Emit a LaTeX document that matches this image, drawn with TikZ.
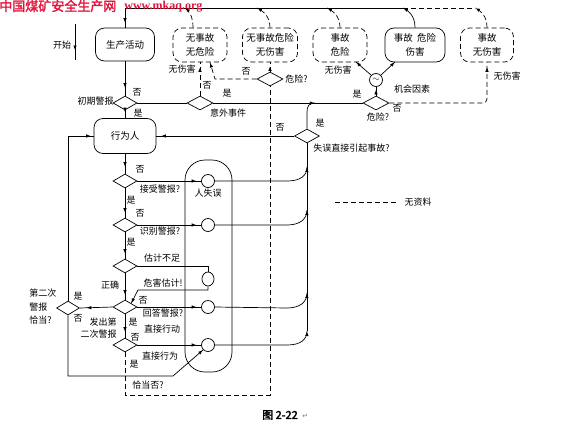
\documentclass[tikz,border=0pt]{standalone}
\usepackage{fontspec}
\newfontfamily\cjk{Noto Sans CJK SC}[AutoFakeBold=2]
\newfontfamily\titlelat{Liberation Serif}
\newfontfamily\symb{DejaVu Sans}
\usetikzlibrary{shapes.geometric,decorations.markings,calc,arrows.meta}
\definecolor{titlered}{RGB}{225,20,60}
\begin{document}
\begin{tikzpicture}[x=1pt,y=-1pt,line width=0.7pt,
  every node/.style={font=\cjk\fontsize{9}{11}\selectfont,inner sep=0pt},
  box/.style={draw,rounded corners=9pt,minimum width=#1,minimum height=34pt,align=center,font=\cjk\fontsize{9.5}{14}\selectfont},
  box/.default=55pt,
  dia/.style={draw,diamond,minimum width=#1,minimum height=14pt,inner sep=0pt},
  dia/.default=24pt,
  circ/.style={draw,circle,minimum size=13pt,inner sep=0pt},
  dsh/.style={dash pattern=on 5pt off 3pt},
  ar/.style={decoration={markings,mark=at position #1 with {\arrow{Latex[length=4.5pt,width=3.5pt]}}},postaction={decorate}},
  ar/.default=-5pt]
\useasboundingbox (0,0) rectangle (570,434);

% ---- top row boxes
\node[box=59pt,minimum height=33pt] (sc) at (125,44.5) {生产活动};
\node[box=62pt,minimum height=35pt] (xw) at (125,136) {行为人};
\node[box=54pt,dsh] (n1) at (200,45) {无事故\\无危险};
\node[box=55pt,dsh] (n2) at (270,45) {无事故危险\\无伤害};
\node[box=54pt,dsh] (n3) at (340,45) {事故\\危险};
\node[box=60pt] (n4) at (415,45) {事故\ \ 危险\\伤害};
\node[box=53pt,dsh] (n5) at (487,45) {事故\\无伤害};

% ---- diamonds
\node[dia] (d0) at (125,103) {};
\node[dia=26pt] (d1) at (200,103) {};
\node[dia=26pt] (d2) at (270,79) {};
\node[dia=26pt] (d3) at (376,103) {};
\node[dia=25pt] (d4) at (307,136) {};
\node[dia] (a1) at (125,181) {};
\node[dia] (a2) at (125,225) {};
\node[dia] (a3) at (125,266) {};
\node[dia] (a4) at (125,307) {};
\node[dia] (a5) at (125,345) {};
\node[dia=23pt] (d5) at (68,308) {};

% ---- human error region
\node[draw,rounded corners=20pt,minimum width=47pt,minimum height=212pt] (rs) at (208.5,266) {};
\node (rsl) at (208,193) {人失误};

% ---- circles
\node[circ,fill=white] (c1) at (208,181) {};
\node[circ,fill=white] (c2) at (208,225) {};
\node[circ,fill=white,minimum height=14pt,minimum width=12pt,ellipse] (c3) at (208,279) {};
\node[circ,fill=white] (c4) at (208,307) {};
\node[circ,fill=white] (c5) at (208,345) {};
\node[circ] (cm) at (376,80) {$\sim$};

% ---- coordinates
\coordinate (s1) at (75,24);
\coordinate (s2) at (75,60);
\coordinate (t0) at (125,8);
\coordinate (tA) at (403,8);
\coordinate (tB) at (475,8);
\coordinate (j1) at (307,167);
\coordinate (j2) at (307,210);
\coordinate (j4) at (307,293);
\coordinate (j5) at (307,331);

% ---- start arrow and top loop
\draw[ar=-10pt] (s1) -- (s2);
\draw[ar=-5pt] (t0) -- (sc.north);
\draw (t0) -- (tA);
\draw[dsh] (tA) -- (tB);
\draw[dsh,ar=-0.5pt] ([xshift=-7pt]n1.north) .. controls (193,16) and (189,11) .. (185,8);
\draw[dsh,ar=-0.5pt] (n2.north) .. controls (270,16) and (263,11) .. (257,8);
\draw[dsh,ar=-0.5pt] (n3.north) .. controls (340,16) and (333,11) .. (327,8);
\draw[ar=-0.5pt] (n4.north) .. controls (415,16) and (409,11) .. (tA);
\draw[dsh,ar=-0.5pt] (n5.north) .. controls (487,16) and (481,11) .. (tB);

% ---- upper flow
\draw[ar=-8pt] (sc.south) -- (d0.north);
\draw[ar=-6pt] (d0.south) -- (xw.north);
\draw (d0.east) -- (d1.west);
\draw (d1.east) -- (d3.west);
\draw[dsh,ar=-5pt] (d1.north) -- (n1.south);
\draw[dsh,ar=-4pt] (d2.north) -- (n2.south);
\draw[dsh,ar=-0.5pt] (d2.west) -- (215,79) -- (210,62.5);
\draw[ar=-3pt] (d3.north) -- (cm.south);
\draw[ar=-0.5pt] (cm.north west) -- (356,62);
\draw[ar=-0.5pt] (cm.north east) -- (395,62);
\draw[dsh,rounded corners=4pt,ar=-5pt] (d3.east) -- (487,103) -- (n5.south);
\draw[ar=-5pt] (d4.west) -- (xw.east);
\draw[ar=-0.5pt] (d4.north) -- (307,112) .. controls (307,106) and (309,103) .. (315,103);
\draw (j5) -- (d4.south);
\draw[dsh] (a5.south) -- (125,395) -- (270,395) -- (d2.south);

% ---- left column
\draw[ar=-7pt] (xw.south) -- (a1.north);
\draw[ar=-5pt] (a1.south) -- (a2.north);
\draw[ar=-5pt] (a2.south) -- (a3.north);
\draw[ar=-5pt] (a3.south) -- (a4.north);
\draw[ar=-6pt] (a4.south) -- (a5.north);
\draw[ar=-5pt] (a1.east) -- (c1.west);
\draw[ar=-5pt] (a2.east) -- (c2.west);
\draw[ar=-5pt] (a4.east) -- (c4.west);
\draw[ar=-5pt] (a5.east) -- (c5.west);
\draw[ar=-0.5pt] (c1.east) -- (287,181) .. controls (300,181) and (307,176) .. (j1);
\draw[ar=-0.5pt] (c2.east) -- (287,225) .. controls (300,225) and (307,219) .. (j2);
\draw[ar=-0.5pt] (c4.east) -- (287,308) .. controls (300,308) and (307,302) .. (j4);
\draw[ar=-0.5pt] (c5.east) -- (287,345) .. controls (300,345) and (307,340) .. (j5);
\draw (a3.east) -- (208,266) -- (c3.north);
\draw[ar=-0.5pt] (c3.south) -- (208,290) -- (138,290) -- (a4.north east);
\draw[ar=-7pt] (a4.west) -- (d5.east);
\draw[ar=-3pt] (d5.north) -- (68,136) -- (xw.west);
\draw[ar=-0.5pt] (d5.south) -- (68,376) -- (173,376) -- (c5.south west);

% ---- labels
\node (l00) at (62,45) {开始};
\node (l01) at (137,92) {否};
\node (l02) at (138,113) {是};
\node[anchor=east] (l03) at (114,101) {初期警报};
\node (l04) at (182,69) {无伤害};
\node (l05) at (207,85) {否};
\node (l06) at (227,93) {是};
\node (l07) at (228,113) {意外事件};
\node (l08) at (246,71) {否};
\node[anchor=west] (l09) at (285,79) {危险?};
\node (l10) at (338,70) {无伤害};
\node (l11) at (357,94) {是};
\node (l12) at (397,108) {否};
\node (l13) at (378,117) {危险?};
\node (l14) at (412,89) {机会因素};
\node (l15) at (507,76) {无伤害};
\node (l16) at (280,127) {否};
\node (l17) at (320,123) {是};
\node[anchor=west] (l18) at (313,148) {失误直接引起事故?};
\node (l19) at (140,169) {否};
\node (l20) at (160,189) {接受警报?};
\node (l21) at (131,200) {是};
\node (l22) at (140,213) {否};
\node (l23) at (160,231) {识别警报?};
\node (l24) at (131,242) {是};
\node (l25) at (162,258) {估计不足};
\node (l26) at (110,285) {正确};
\node (l27) at (163,283) {危害估计!};
\node (l28) at (143,300) {否};
\node (l29) at (163,313) {回答警报?};
\node (l30) at (133,322) {是};
\node (l31) at (162,329) {直接行动};
\node (l32) at (135,337) {否};
\node (l33) at (160,356) {直接行为};
\node (l34) at (134,364) {是};
\node (l35) at (148,385) {恰当否?};
\node[anchor=east,align=right,font=\cjk\fontsize{9}{12}\selectfont] (l36) at (117,328) {发出第\\二次警报};
\node[anchor=west,align=left,font=\cjk\fontsize{9}{13.5}\selectfont] (l37) at (29,307) {第二次\\警报\\恰当?};
\node (l38) at (78,296) {是};
\node (l39) at (78,318) {否};

% ---- legend
\coordinate (g1) at (335,202);
\coordinate (g2) at (398,202);
\draw[dsh] (g1) -- (g2);
\node (l40) at (418,202) {无资料};

% ---- caption
\node[font=\cjk\bfseries\fontsize{11}{11}\selectfont] (cap) at (280,415) {图 2-22};
\node[anchor=west,text=gray,font=\symb\fontsize{7}{7}\selectfont] (ret) at (302,416) {↵};

% ---- title
\node[anchor=west,text=titlered,font=\cjk\bfseries\fontsize{13}{13}\selectfont] (ttl) at (-1,6) {中国煤矿安全生产网};
\node[anchor=west,text=titlered,font=\titlelat\bfseries\fontsize{12}{12}\selectfont] (url) at (124,7) {www.mkaq.org};
\end{tikzpicture}
\end{document}
